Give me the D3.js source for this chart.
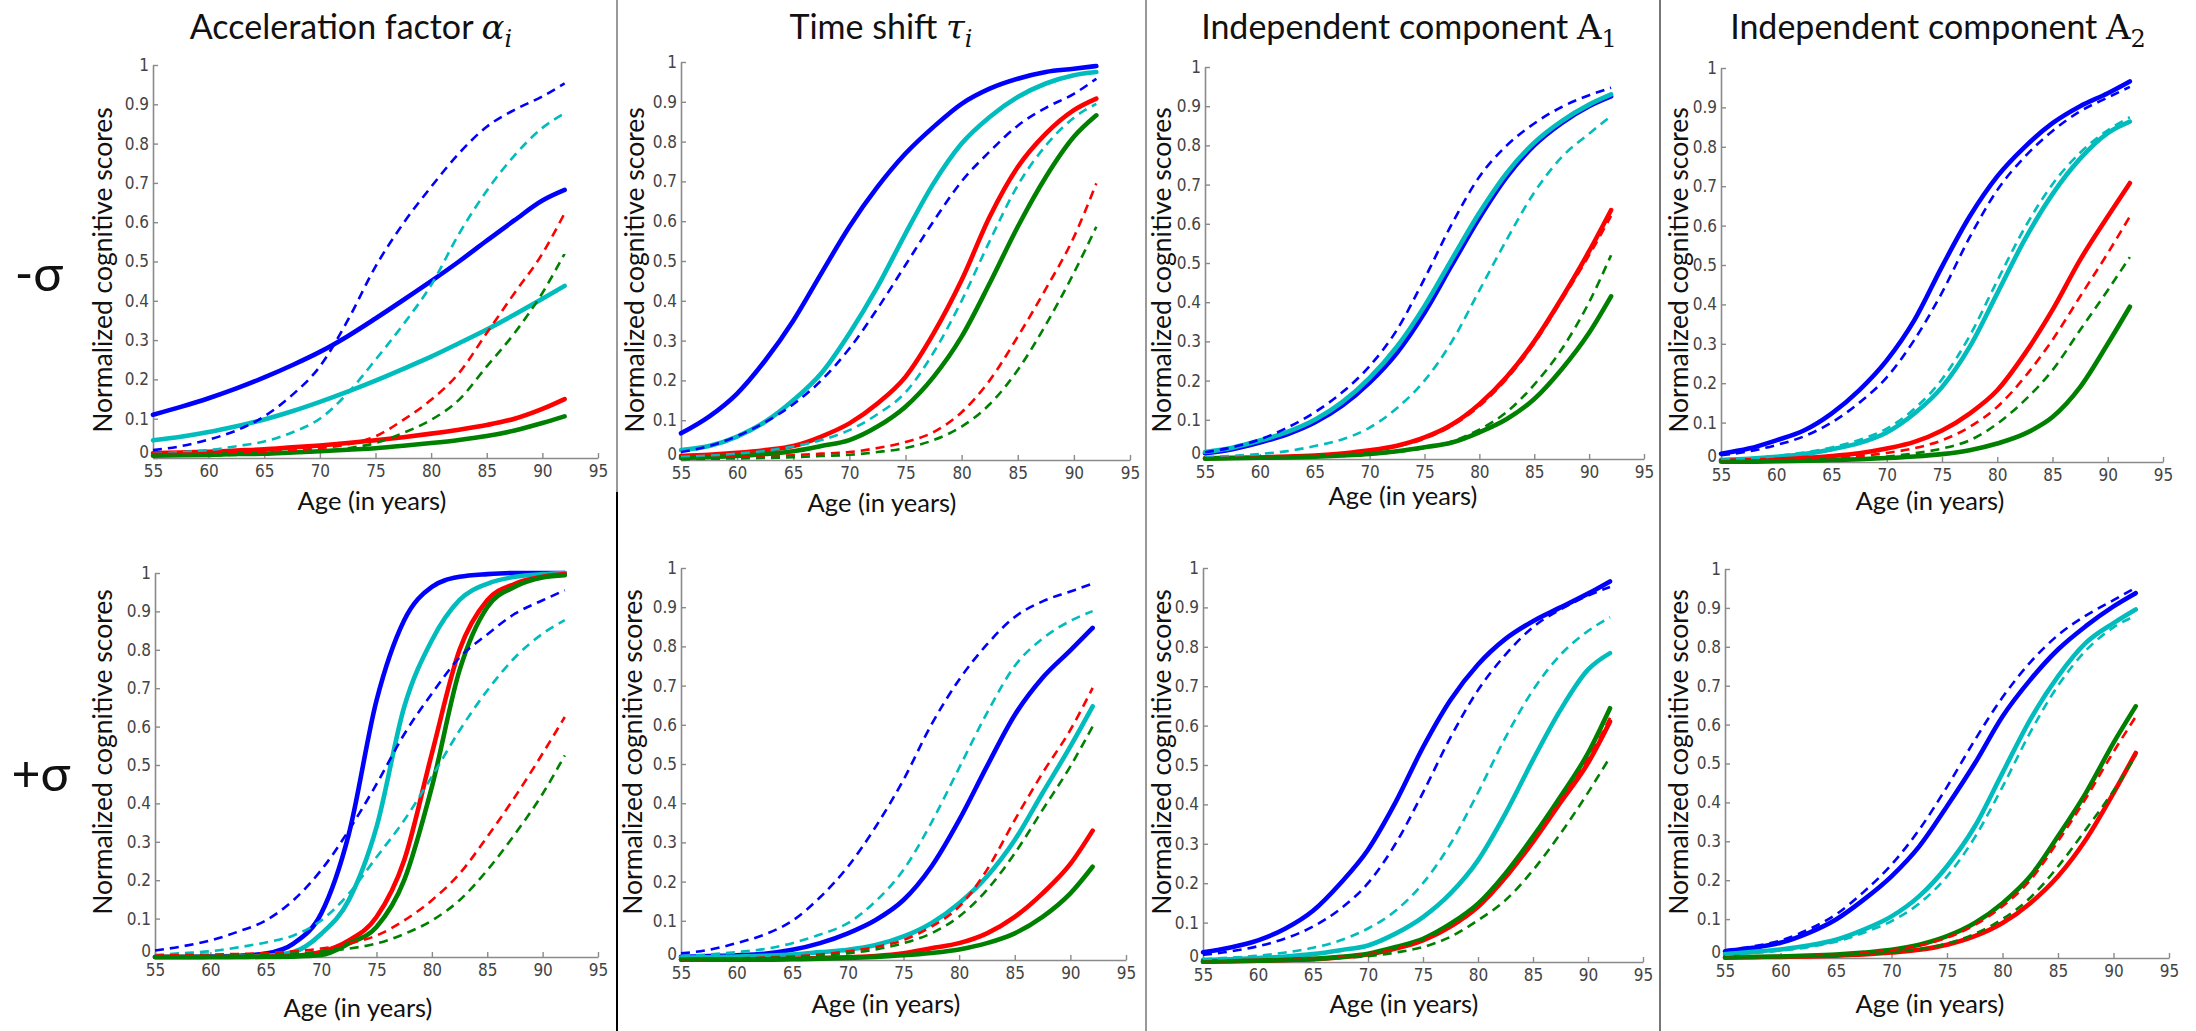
<!DOCTYPE html>
<html>
<head>
<meta charset="utf-8">
<script src="https://cdn.jsdelivr.net/npm/d3@7"></script>
<style>
  body { margin: 0; background: #fff; }
  svg { display: block; }
  .tick text { font-family: "Liberation Sans Narrow", "Arial Narrow", "DejaVu Sans Condensed", sans-serif; font-stretch: condensed; }
  .lab { font-family: Lato, "Open Sans", sans-serif; fill: #111; }
</style>
</head>
<body>
<div id="fig"></div>
<script>
const ages = [55, 57.5, 60, 62.5, 65, 67.5, 70, 72.5, 75, 77.5, 80, 82.5, 85, 87.5, 90, 92];
const xTicks = [55, 60, 65, 70, 75, 80, 85, 90, 95];
const yTicks = [0, 0.1, 0.2, 0.3, 0.4, 0.5, 0.6, 0.7, 0.8, 0.9, 1];
const yTickLabels = ['0', '0.1', '0.2', '0.3', '0.4', '0.5', '0.6', '0.7', '0.8', '0.9', '1'];
const groups = ['blue', 'cyan', 'red', 'green'];
const colors = { blue: '#0000ff', cyan: '#00bcbc', red: '#ff0000', green: '#008000' };

// Row -sigma
const alphaMinusSolid = {
  blue:  [.11, .13, .152, .177, .205, .236, .27, .31, .355, .402, .45, .50, .553, .605, .655, .682],
  cyan:  [.045, .054, .066, .081, .098, .119, .143, .169, .197, .227, .258, .292, .327, .365, .405, .438],
  red:   [.012, .014, .016, .019, .022, .027, .032, .038, .045, .053, .062, .072, .084, .1, .125, .15],
  green: [.006, .007, .008, .01, .011, .014, .017, .021, .025, .031, .038, .046, .056, .07, .089, .106]
};
const alphaMinusDashed = {
  blue:  [.02, .03, .047, .07, .106, .16, .233, .35, .487, .597, .69, .775, .843, .886, .92, .953],
  cyan:  [.01, .015, .02, .03, .042, .065, .1, .165, .25, .34, .44, .57, .68, .77, .84, .877],
  red:   [.01, .011, .012, .013, .015, .019, .025, .035, .055, .097, .148, .216, .318, .42, .52, .623],
  green: [.006, .006, .007, .008, .01, .013, .017, .025, .038, .064, .097, .148, .233, .318, .42, .52]
};
const tauMinusSolid = {
  blue:  [.067, .109, .167, .25, .35, .469, .586, .686, .77, .837, .895, .933, .958, .975, .983, .99],
  cyan:  [.025, .035, .059, .096, .15, .218, .318, .435, .569, .695, .795, .862, .912, .946, .967, .975],
  red:   [.01, .013, .018, .025, .035, .059, .092, .142, .209, .318, .452, .611, .736, .82, .879, .908],
  green: [.005, .007, .01, .015, .022, .035, .05, .084, .134, .209, .31, .444, .586, .711, .812, .866]
};
const tauMinusDashed = {
  blue:  [.02, .035, .06, .095, .14, .2, .28, .38, .49, .6, .7, .775, .84, .885, .92, .958],
  cyan:  [.008, .011, .016, .023, .034, .05, .075, .115, .17, .27, .40, .55, .69, .79, .86, .895],
  red:   [.003, .005, .007, .009, .012, .016, .02, .03, .045, .07, .12, .2, .31, .43, .56, .695],
  green: [.002, .003, .004, .005, .007, .01, .013, .02, .03, .05, .084, .14, .226, .34, .47, .586]
};
const a1MinusSolid = {
  blue:  [.015, .025, .042, .063, .093, .136, .195, .271, .373, .495, .615, .72, .80, .857, .90, .925],
  cyan:  [.018, .029, .047, .069, .1, .145, .207, .287, .39, .51, .628, .73, .807, .862, .904, .93],
  red:   [.002, .003, .004, .006, .009, .014, .022, .034, .055, .088, .14, .21, .3, .41, .53, .635],
  green: [.001, .002, .003, .004, .006, .009, .013, .02, .03, .042, .068, .102, .153, .229, .322, .415]
};
const a1MinusDashed = {
  blue:  [.017, .03, .05, .08, .119, .17, .237, .33, .46, .6, .72, .8, .856, .898, .928, .947],
  cyan:  [.005, .008, .013, .02, .033, .05, .08, .13, .2, .3, .43, .56, .68, .77, .83, .875],
  red:   [.002, .003, .004, .006, .009, .013, .02, .032, .052, .085, .135, .205, .295, .405, .52, .62],
  green: [.001, .002, .003, .004, .006, .009, .012, .018, .028, .045, .075, .12, .19, .28, .4, .52]
};
const a2MinusSolid = {
  blue:  [.021, .034, .055, .08, .123, .182, .258, .36, .496, .623, .725, .80, .86, .903, .936, .966],
  cyan:  [.005, .008, .013, .02, .032, .048, .075, .123, .19, .292, .428, .565, .68, .77, .835, .864],
  red:   [.003, .004, .006, .01, .015, .022, .034, .051, .08, .123, .182, .275, .386, .513, .623, .708],
  green: [.001, .001, .002, .003, .005, .007, .01, .014, .02, .03, .047, .072, .114, .19, .30, .394]
};
const a2MinusDashed = {
  blue:  [.017, .027, .043, .065, .1, .15, .215, .31, .43, .57, .69, .775, .84, .89, .925, .952],
  cyan:  [.006, .009, .015, .024, .037, .056, .085, .135, .21, .32, .46, .595, .705, .785, .842, .875],
  red:   [.002, .003, .005, .007, .01, .015, .023, .035, .055, .089, .14, .216, .31, .42, .53, .623],
  green: [.001, .002, .003, .004, .006, .009, .014, .022, .034, .055, .097, .157, .233, .335, .436, .52]
};

// Row +sigma
const alphaPlusSolid = {
  blue:  [0, 0, .001, .003, .009, .035, .113, .32, .668, .877, .964, .99, .997, 1, 1, 1],
  cyan:  [0, 0, 0, .001, .003, .013, .06, .148, .338, .651, .825, .93, .972, .99, .997, 1],
  red:   [0, 0, 0, 0, .001, .003, .013, .043, .104, .252, .53, .80, .929, .972, .99, .997],
  green: [0, 0, 0, 0, 0, .001, .005, .035, .078, .2, .443, .747, .911, .964, .988, .994]
};
const alphaPlusDashed = {
  blue:  [.017, .028, .043, .066, .095, .148, .226, .33, .45, .58, .686, .78, .84, .894, .929, .955],
  cyan:  [.005, .01, .015, .025, .038, .056, .095, .165, .26, .356, .47, .59, .694, .78, .842, .877],
  red:   [.004, .005, .006, .008, .01, .015, .022, .035, .056, .095, .148, .217, .313, .417, .53, .625],
  green: [.002, .002, .003, .004, .006, .009, .014, .022, .035, .06, .095, .148, .226, .32, .425, .525]
};
const tauPlusSolid = {
  blue:  [.008, .01, .012, .016, .026, .043, .068, .102, .153, .238, .357, .494, .625, .72, .79, .847],
  cyan:  [.006, .007, .009, .011, .014, .02, .026, .038, .06, .094, .145, .213, .306, .426, .545, .647],
  red:   [.001, .001, .002, .002, .003, .005, .007, .01, .017, .03, .043, .068, .11, .17, .245, .33],
  green: [.001, .001, .001, .001, .002, .003, .005, .008, .012, .018, .027, .043, .068, .11, .17, .238]
};
const tauPlusDashed = {
  blue:  [.017, .026, .043, .065, .10, .16, .238, .34, .46, .6, .715, .805, .875, .915, .94, .96],
  cyan:  [.01, .014, .02, .028, .043, .065, .094, .15, .23, .35, .49, .63, .75, .82, .865, .89],
  red:   [.002, .003, .004, .006, .009, .014, .022, .033, .051, .085, .136, .23, .357, .477, .587, .694],
  green: [.002, .002, .003, .005, .007, .011, .017, .027, .043, .068, .111, .179, .272, .383, .494, .596]
};
const a1PlusSolid = {
  blue:  [.025, .037, .055, .085, .13, .2, .285, .405, .545, .665, .755, .82, .865, .9, .935, .966],
  cyan:  [.005, .007, .01, .014, .02, .03, .042, .072, .114, .174, .258, .377, .513, .64, .742, .784],
  red:   [.001, .002, .003, .005, .007, .012, .019, .034, .055, .09, .14, .215, .305, .405, .505, .61],
  green: [.001, .002, .003, .005, .008, .013, .021, .038, .059, .097, .148, .225, .318, .42, .53, .644]
};
const a1PlusDashed = {
  blue:  [.018, .027, .04, .06, .09, .135, .2, .3, .43, .57, .69, .78, .85, .895, .93, .952],
  cyan:  [.007, .011, .016, .024, .036, .055, .085, .13, .2, .3, .43, .57, .69, .78, .84, .875],
  red:   [.001, .002, .003, .005, .007, .012, .019, .033, .054, .088, .138, .212, .305, .41, .515, .62],
  green: [.001, .002, .003, .004, .006, .01, .015, .024, .038, .064, .106, .157, .233, .326, .43, .52]
};
const a2PlusSolid = {
  blue:  [.017, .026, .039, .064, .099, .15, .21, .287, .39, .5, .621, .715, .793, .853, .904, .938],
  cyan:  [.01, .016, .022, .032, .047, .073, .107, .159, .236, .338, .476, .613, .724, .81, .861, .896],
  red:   [.001, .002, .003, .004, .006, .009, .014, .021, .034, .056, .09, .141, .21, .304, .424, .527],
  green: [.002, .003, .004, .006, .009, .014, .021, .034, .056, .09, .141, .21, .313, .424, .553, .647]
};
const a2PlusDashed = {
  blue:  [.02, .03, .045, .073, .112, .17, .24, .33, .44, .56, .67, .76, .83, .88, .92, .952],
  cyan:  [.008, .013, .019, .028, .042, .065, .095, .14, .21, .31, .44, .58, .7, .79, .85, .88],
  red:   [.002, .002, .003, .005, .008, .013, .02, .032, .052, .085, .133, .2, .3, .41, .53, .62],
  green: [.001, .002, .003, .004, .006, .009, .014, .022, .037, .062, .1, .155, .235, .33, .43, .52]
};

const titles = [
  { text: 'Acceleration factor ', sym: 'α', sub: 'i', italic: true },
  { text: 'Time shift ', sym: 'τ', sub: 'i', italic: true },
  { text: 'Independent component ', sym: 'A', sub: '1', italic: false },
  { text: 'Independent component ', sym: 'A', sub: '2', italic: false }
];
const rowLabels = ['-σ', '+σ'];

// Panel boxes (pixel geometry of each small axes)
const panels = [
  { solid: alphaMinusSolid, dashed: alphaMinusDashed, x0: 153, x1: 598, y0: 458, y1: 65, ylx: 103, yly: 270, xlx: 372, xly: 510 },
  { solid: tauMinusSolid, dashed: tauMinusDashed, x0: 681, x1: 1130, y0: 460, y1: 62, ylx: 635, yly: 270, xlx: 882, xly: 512 },
  { solid: a1MinusSolid, dashed: a1MinusDashed, x0: 1205, x1: 1644, y0: 459, y1: 67, ylx: 1162, yly: 270, xlx: 1403, xly: 505 },
  { solid: a2MinusSolid, dashed: a2MinusDashed, x0: 1721, x1: 2163, y0: 462, y1: 68, ylx: 1679, yly: 270, xlx: 1930, xly: 510 },
  { solid: alphaPlusSolid, dashed: alphaPlusDashed, x0: 155, x1: 598, y0: 957, y1: 573, ylx: 103, yly: 752, xlx: 358, xly: 1017 },
  { solid: tauPlusSolid, dashed: tauPlusDashed, x0: 681, x1: 1126, y0: 960, y1: 568, ylx: 633, yly: 752, xlx: 886, xly: 1013 },
  { solid: a1PlusSolid, dashed: a1PlusDashed, x0: 1203, x1: 1643, y0: 962, y1: 568, ylx: 1162, yly: 752, xlx: 1404, xly: 1013 },
  { solid: a2PlusSolid, dashed: a2PlusDashed, x0: 1725, x1: 2169, y0: 958, y1: 569, ylx: 1679, yly: 752, xlx: 1930, xly: 1013 }
];
const titleX = [351, 881, 1409, 1938];

const W = 2196, H = 1031;
const svg = d3.select('#fig').append('svg').attr('width', W).attr('height', H);

// Divider lines between columns
[617, 1146, 1660].forEach((dx, i) => {
  svg.append('line').attr('x1', dx).attr('x2', dx).attr('y1', 0).attr('y2', H)
    .attr('stroke', i === 2 ? '#777' : '#999').attr('stroke-width', 2);
});
svg.append('line').attr('x1', 617).attr('x2', 617).attr('y1', 492).attr('y2', H)
  .attr('stroke', '#000').attr('stroke-width', 2);

// Column titles
titles.forEach((t, i) => {
  const txt = svg.append('text').attr('class', 'lab')
    .attr('x', titleX[i]).attr('y', 39).attr('text-anchor', 'middle').style('font-size', '34px');
  txt.append('tspan').text(t.text);
  txt.append('tspan').text(t.sym)
    .style('font-family', '"DejaVu Serif", serif')
    .style('font-style', t.italic ? 'italic' : 'normal');
  txt.append('tspan').text(t.sub).attr('dy', 8)
    .style('font-family', '"DejaVu Serif", serif')
    .style('font-style', t.italic ? 'italic' : 'normal')
    .style('font-size', '24px');
});

// Row labels
svg.append('text').attr('class', 'lab').attr('x', 39).attr('y', 291).attr('text-anchor', 'middle')
  .style('font-size', '50px').text(rowLabels[0]);
svg.append('text').attr('class', 'lab').attr('x', 41).attr('y', 791).attr('text-anchor', 'middle')
  .style('font-size', '50px').text(rowLabels[1]);

panels.forEach(p => {
  const x = d3.scaleLinear().domain([55, 95]).range([p.x0, p.x1]);
  const y = d3.scaleLinear().domain([0, 1]).range([p.y0, p.y1]);
  const g = svg.append('g');

  const xAxis = d3.axisBottom(x).tickValues(xTicks).tickFormat(d3.format('d'))
    .tickSizeInner(-5).tickSizeOuter(0).tickPadding(7);
  const yAxis = d3.axisLeft(y).tickValues(yTicks).tickFormat((d, i) => yTickLabels[i])
    .tickSizeInner(-5).tickSizeOuter(0).tickPadding(4);

  const gx = g.append('g').attr('transform', `translate(0,${p.y0})`).call(xAxis);
  const gy = g.append('g').attr('transform', `translate(${p.x0},0)`).call(yAxis);
  [gx, gy].forEach(a => {
    a.select('.domain').attr('stroke', '#8a8a8a').attr('stroke-width', 1.6);
    a.selectAll('.tick line').attr('stroke', '#8a8a8a').attr('stroke-width', 1.4);
    a.selectAll('.tick text').attr('fill', '#444').style('font-size', '17px');
  });
  // the "0" label sits just above the "55" label, as in the original
  gy.selectAll('.tick text').filter(d => d === 0).attr('dy', '-0.05em');

  const line = d3.line()
    .x((d, i) => x(ages[i]))
    .y(d => y(d))
    .curve(d3.curveMonotoneX);

  groups.forEach(k => {
    g.append('path').datum(p.solid[k]).attr('d', line)
      .attr('fill', 'none').attr('stroke', colors[k]).attr('stroke-width', 4.6)
      .attr('stroke-linecap', 'round');
  });
  groups.forEach(k => {
    g.append('path').datum(p.dashed[k]).attr('d', line)
      .attr('fill', 'none').attr('stroke', colors[k]).attr('stroke-width', 2.6)
      .attr('stroke-dasharray', '9,6');
  });

  g.append('text').attr('class', 'lab')
    .attr('transform', `translate(${p.ylx},${p.yly}) rotate(-90)`)
    .attr('text-anchor', 'middle').attr('dy', '0.35em')
    .style('font-size', '26.5px').text('Normalized cognitive scores');
  g.append('text').attr('class', 'lab')
    .attr('x', p.xlx).attr('y', p.xly).attr('text-anchor', 'middle')
    .style('font-size', '25.5px').text('Age (in years)');
});
</script>
</body>
</html>
